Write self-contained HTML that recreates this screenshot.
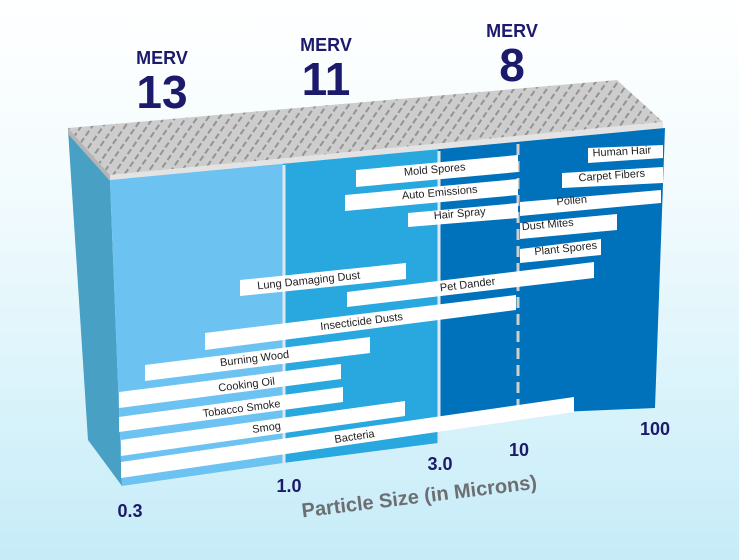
<!DOCTYPE html>
<html><head><meta charset="utf-8"><style>
html,body{margin:0;padding:0;}
body{width:739px;height:560px;overflow:hidden;background:linear-gradient(#ffffff 0%,#f2fbfe 35%,#c6ecf8 100%);}
svg{display:block;font-family:"Liberation Sans",sans-serif;}
.lb{font-size:11px;fill:#222;text-anchor:middle;}
.nv{fill:#1c1a6a;font-weight:bold;text-anchor:middle;}
</style></head><body>
<svg width="739" height="560" viewBox="0 0 739 560">
<defs>
<pattern id="gr" width="9" height="9" patternUnits="userSpaceOnUse" patternTransform="rotate(-55)">
<rect width="9" height="9" fill="#cdcdcd"/><rect x="1" y="3" width="6" height="2" fill="#939393"/>
</pattern>
<clipPath id="face"><polygon points="110,180 665,128 655,408 438,417 438,443 283,463 122,486"/></clipPath>
</defs>
<text class="nv" x="162" y="64" font-size="18">MERV</text>
<text class="nv" x="162" y="108" font-size="46">13</text>
<text class="nv" x="326" y="51" font-size="18">MERV</text>
<text class="nv" x="326" y="95" font-size="46">11</text>
<text class="nv" x="512" y="37" font-size="18">MERV</text>
<text class="nv" x="512" y="81" font-size="46">8</text>
<polygon points="68,130 110,180 122,486 88,440" fill="#48a0c4"/>
<polygon points="68,128 617,80 663,122 110,175" fill="url(#gr)"/>
<polygon points="68,128 110,175 110,181 68,134" fill="#b5b5b5"/>
<polygon points="110,175 663,122 663,129 110,181" fill="#e3e3e3"/>
<g clip-path="url(#face)">
<rect x="100" y="100" width="185" height="400" fill="#6cc3f2"/>
<rect x="283" y="100" width="157" height="400" fill="#29a8e0"/>
<rect x="438" y="100" width="240" height="400" fill="#0071bb"/>
</g>
<line x1="284" y1="165" x2="284" y2="463" stroke="#dde9ef" stroke-width="3"/>
<line x1="439" y1="151" x2="439" y2="443" stroke="#dde9ef" stroke-width="3"/>
<line x1="518" y1="144" x2="518" y2="413" stroke="#cfcfcf" stroke-width="3" stroke-dasharray="11,6"/>
<g fill="#fff">
<polygon points="588,148 663,145 663,158 588,163"/>
<polygon points="562,173 663,167 663,183 562,188"/>
<polygon points="356,170 518,155 518,172 356,187"/>
<polygon points="345,195 518,179 518,195 345,211"/>
<polygon points="408,213 518,203 518,218 408,227"/>
<polygon points="520,202 661,190 661,203 520,216"/>
<polygon points="520,223 617,214 617,230 520,239"/>
<polygon points="520,249 601,239 601,255 520,263"/>
<polygon points="240,280 406,263 406,279 240,296"/>
<polygon points="347,292 594,262 594,278 347,307"/>
<polygon points="205,333 516,295 516,310 205,350"/>
<polygon points="145,365 370,337 370,353 145,381"/>
<polygon points="119,392 341,364 341,379 119,408"/>
<polygon points="119,417 343,387 343,402 119,432"/>
<polygon points="121,440 405,401 405,416 121,456"/>
<polygon points="121,462 574,397 574,412 121,478"/>
</g>
<g class="lb">
<text transform="translate(622,155) rotate(-3)">Human Hair</text>
<text transform="translate(612,179) rotate(-4)">Carpet Fibers</text>
<text transform="translate(435,173) rotate(-5)">Mold Spores</text>
<text transform="translate(440,196) rotate(-5)">Auto Emissions</text>
<text transform="translate(460,217) rotate(-5)">Hair Spray</text>
<text transform="translate(572,204) rotate(-5)">Pollen</text>
<text transform="translate(548,228) rotate(-5)">Dust Mites</text>
<text transform="translate(566,252) rotate(-6)">Plant Spores</text>
<text transform="translate(309,284) rotate(-6)">Lung Damaging Dust</text>
<text transform="translate(468,288) rotate(-7)">Pet Dander</text>
<text transform="translate(362,325) rotate(-7)">Insecticide Dusts</text>
<text transform="translate(255,362) rotate(-7)">Burning Wood</text>
<text transform="translate(247,388) rotate(-7)">Cooking Oil</text>
<text transform="translate(242,412) rotate(-7.5)">Tobacco Smoke</text>
<text transform="translate(267,431) rotate(-8)">Smog</text>
<text transform="translate(355,440) rotate(-8.5)">Bacteria</text>
</g>
<g class="nv" font-size="18">
<text x="130" y="517">0.3</text>
<text x="289" y="492">1.0</text>
<text x="440" y="470">3.0</text>
<text x="519" y="456">10</text>
<text x="655" y="435">100</text>
</g>
<text transform="translate(420,503) rotate(-7)" font-size="20" font-weight="bold" fill="#6d6e71" text-anchor="middle">Particle Size (in Microns)</text>
</svg>
</body></html>
